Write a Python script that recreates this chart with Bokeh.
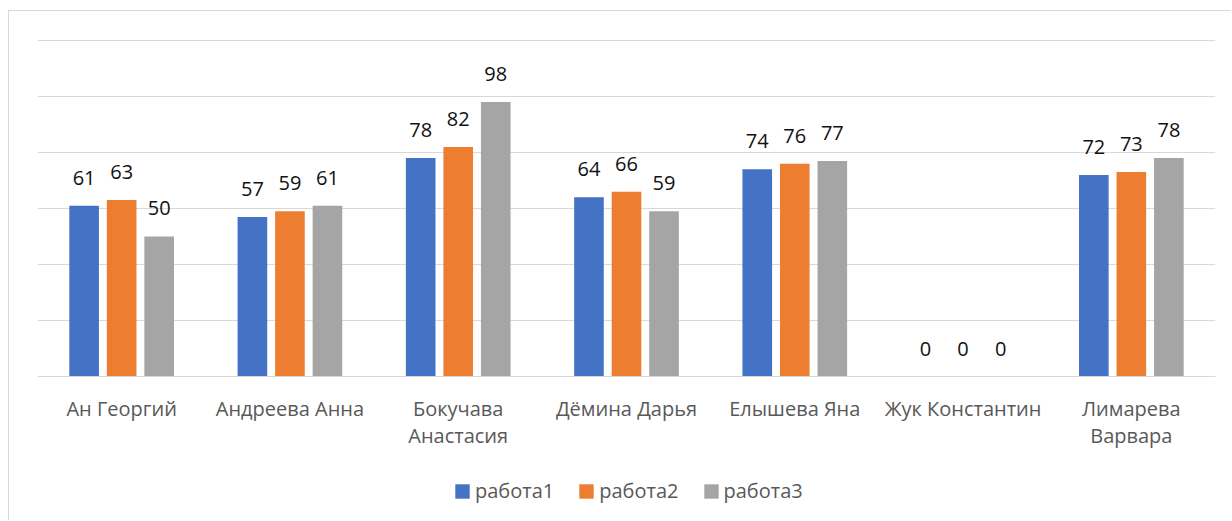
from bokeh.plotting import figure
from bokeh.models import ColumnDataSource, FactorRange, Legend, LegendItem, Range1d, SingleIntervalTicker
from bokeh.layouts import column
from bokeh.transform import dodge
from bokeh.core.properties import value
from bokeh.embed import file_html
from bokeh.resources import INLINE

names = ["Ан Георгий", "Андреева Анна", "Бокучава\nАнастасия", "Дёмина Дарья",
         "Елышева Яна", "Жук Константин", "Лимарева\nВарвара"]
rabota1 = [61, 57, 78, 64, 74, 0, 72]
rabota2 = [63, 59, 82, 66, 76, 0, 73]
rabota3 = [50, 61, 98, 59, 77, 0, 78]
series = ["работа1", "работа2", "работа3"]
colors = ["#4472C4", "#ED7D31", "#A5A5A5"]

src = ColumnDataSource(dict(x=names, r1=rabota1, r2=rabota2, r3=rabota3,
                            t1=[str(v) for v in rabota1],
                            t2=[str(v) for v in rabota2],
                            t3=[str(v) for v in rabota3]))

FONT = "Open Sans"

p = figure(x_range=FactorRange(factors=names, range_padding=0),
           y_range=Range1d(0, 120.714),
           width=1223, height=454, output_backend="svg", toolbar_location=None,
           min_border_left=28, min_border_right=17, min_border_top=27, min_border_bottom=89)
p.outline_line_color = None
p.background_fill_color = "white"
p.border_fill_color = "white"
p.styles = {"margin-left": "8px", "margin-top": "10px",
            "border-left": "1px solid #d9d9d9", "border-top": "1px solid #d9d9d9"}

offsets = [-0.223, 0.0, 0.223]
cols = ["r1", "r2", "r3"]
tcols = ["t1", "t2", "t3"]
for off, c, tc, col in zip(offsets, cols, tcols, colors):
    p.vbar(x=dodge("x", off, range=p.x_range), top=c, width=0.176, source=src,
           fill_color=col, line_color=None)
    p.text(x=dodge("x", off, range=p.x_range), y=c, text=tc, source=src,
           text_align="center", text_baseline="alphabetic", y_offset=-28,
           text_font=value(FONT), text_font_size="20px", text_color="#111111")

p.yaxis.visible = False
p.yaxis.ticker = SingleIntervalTicker(interval=20)
p.ygrid.ticker = SingleIntervalTicker(interval=20)
p.ygrid.grid_line_color = "#d9d9d9"
p.ygrid.grid_line_width = 1
p.xgrid.grid_line_color = None

p.xaxis.axis_line_color = "#d9d9d9"
p.xaxis.axis_line_width = 1
p.xaxis.major_tick_line_color = None
p.xaxis.minor_tick_line_color = None
p.xaxis.major_label_text_font = FONT
p.xaxis.major_label_text_font_size = "20px"
p.xaxis.major_label_text_color = "#595959"
p.xaxis.major_label_text_line_height = 1.0
p.xaxis.major_label_standoff = 12

# legend strip below the chart (series bars drawn out of view, only legend shown)
lg = figure(width=1223, height=56, output_backend="svg", toolbar_location=None,
            x_range=FactorRange(factors=names), y_range=Range1d(1000, 1001),
            min_border_left=0, min_border_right=0, min_border_top=0, min_border_bottom=0)
lg.axis.visible = False
lg.grid.visible = False
lg.outline_line_color = None
lg.border_fill_color = "white"
lg.styles = {"margin-left": "8px", "border-left": "1px solid #d9d9d9"}
lrs = [lg.vbar(x="x", top=c, width=0.1, source=src, fill_color=col, line_color=None)
       for c, col in zip(cols, colors)]
legend = Legend(items=[LegendItem(label=s, renderers=[r]) for s, r in zip(series, lrs)],
                orientation="horizontal", location=(416, 16),
                glyph_width=18, glyph_height=18, label_standoff=4, spacing=23,
                padding=0, margin=0, border_line_color=None, background_fill_alpha=0,
                label_text_font=FONT, label_text_font_size="20px", label_text_color="#595959")
lg.add_layout(legend, "center")

layout = column(p, lg, spacing=0)
open("out.html", "w").write(file_html(layout, INLINE))
